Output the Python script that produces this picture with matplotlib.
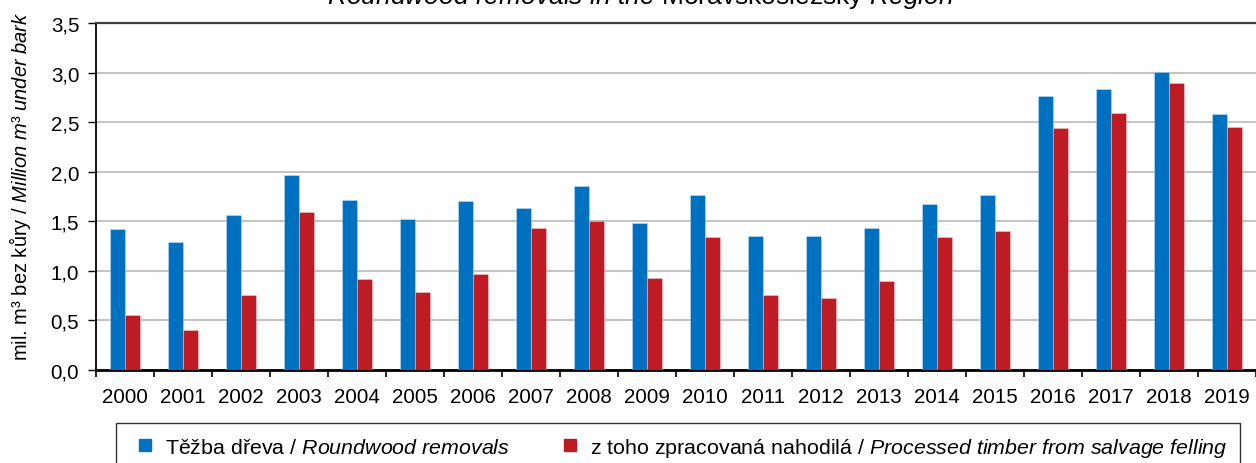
import matplotlib
matplotlib.use("Agg")
import matplotlib.pyplot as plt
from matplotlib.lines import Line2D
import numpy as np

years = [str(y) for y in range(2000, 2020)]
roundwood = [1.42, 1.29, 1.56, 1.97, 1.71, 1.52, 1.70, 1.63, 1.86, 1.48,
             1.77, 1.35, 1.35, 1.43, 1.67, 1.77, 2.76, 2.83, 3.01, 2.58]
salvage = [0.55, 0.40, 0.76, 1.59, 0.92, 0.79, 0.97, 1.43, 1.50, 0.93,
           1.34, 0.76, 0.73, 0.90, 1.34, 1.40, 2.44, 2.59, 2.89, 2.45]
yticks = [0.0, 0.5, 1.0, 1.5, 2.0, 2.5, 3.0, 3.5]

label_blue = r"Těžba dřeva / $\mathit{Roundwood\ removals}$"
label_red = r"z toho zpracovaná nahodilá / $\mathit{Processed\ timber\ from\ salvage\ felling}$"
title = r"$\mathit{Roundwood\ removals\ in\ the}$ Moravskoslezský $\mathit{Region}$"
ylabel = r"mil. m³ bez kůry / $\mathit{Million\ m³\ under\ bark}$"

plt.rcParams['font.family'] = ['Liberation Sans', 'DejaVu Sans']
plt.rcParams['mathtext.fontset'] = 'custom'
plt.rcParams['mathtext.rm'] = 'Liberation Sans'
plt.rcParams['mathtext.it'] = 'Liberation Sans:italic'
plt.rcParams['mathtext.bf'] = 'Liberation Sans:bold'

W, H = 1256, 464
fig = plt.figure(figsize=(W / 100, H / 100), dpi=100)
ax = fig.add_axes([96 / W, 1 - 371 / H, (1256 - 96) / W, (371 - 24) / H])

blue = '#0070C0'
red = '#BE1C24'
x = np.arange(len(years))
bw = 0.265
ax.bar(x - bw / 2, roundwood, width=bw, color=blue, edgecolor=(1, 1, 1, 0.35), linewidth=0.6, zorder=3)
ax.bar(x + bw / 2, salvage, width=bw, color=red, edgecolor=(1, 1, 1, 0.35), linewidth=0.6, zorder=3)

ax.set_xlim(-0.5, len(years) - 0.5)
ax.set_ylim(0, 3.5)
ax.set_yticks(yticks)
ax.set_yticklabels([f"{v:.1f}".replace('.', ',') for v in yticks], fontsize=14.8)
ax.set_xticks(x)
ax.set_xticklabels(years, fontsize=14.8)
ax.set_xticks(np.arange(-0.5, len(years), 1.0), minor=True)
ax.tick_params(axis='x', which='major', length=0, pad=12)
ax.tick_params(axis='x', which='minor', length=5, width=1.2, direction='out')
ax.tick_params(axis='y', which='major', length=6, width=1, direction='out', pad=6)

ax.grid(axis='y', color='#C4C4C4', linewidth=1.5, zorder=0)
ax.set_axisbelow(True)
ax.spines['right'].set_visible(False)
ax.spines['top'].set_color('#404040')
ax.spines['top'].set_linewidth(1.6)
ax.spines['left'].set_color('black')
ax.spines['left'].set_linewidth(1.3)
ax.spines['bottom'].set_color('black')
ax.spines['bottom'].set_linewidth(2)

fig.text(20 / W, 1 - 186 / H, ylabel, rotation=90, ha='center', va='center', fontsize=14.5)
fig.text(640 / W, 1 - 4 / H, title, ha='center', va='baseline', fontsize=19)

handles = [Line2D([], [], marker='s', linestyle='none', color=blue, markersize=8),
           Line2D([], [], marker='s', linestyle='none', color=red, markersize=8)]
leg = fig.legend(handles, [label_blue, label_red], loc='upper left',
                 bbox_to_anchor=(116 / W, 1 - 424 / H),
                 ncol=2, fontsize=15.4, frameon=True, fancybox=False,
                 edgecolor='black', handlelength=1.54, handletextpad=0.14,
                 columnspacing=2.06, borderpad=0.6, borderaxespad=0)
leg.get_frame().set_linewidth(1.0)

fig.savefig('out.png', dpi=100)
